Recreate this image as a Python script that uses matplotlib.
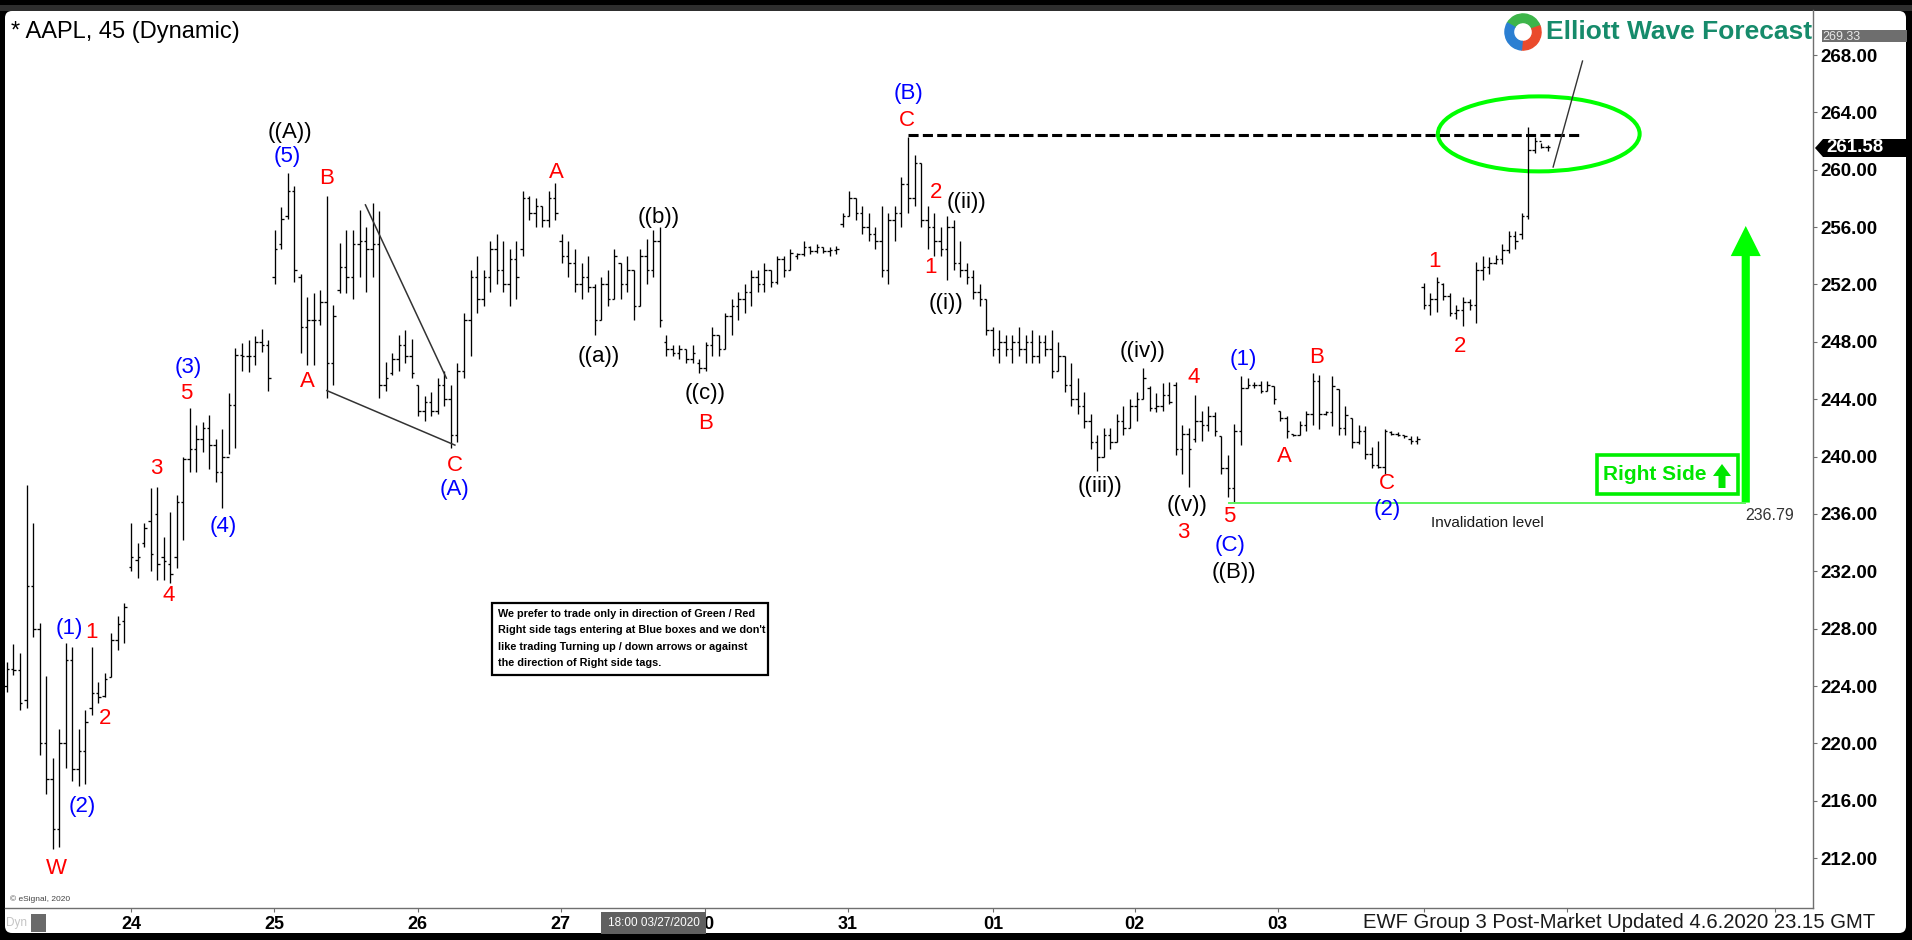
import numpy as np
import matplotlib
matplotlib.use('Agg')
import matplotlib.pyplot as plt
from matplotlib.collections import LineCollection
from matplotlib.patches import Ellipse, FancyArrow, Rectangle, FancyBboxPatch, Polygon, Wedge
from matplotlib.transforms import Affine2D

plt.rcParams['font.family'] = ['Liberation Sans', 'DejaVu Sans']

# AAPL 45 min bars (high / low / open / close)
bar_high = [
    225.7, 226.9, 226.3, 238.0, 235.4, 228.4, 224.7, 219.0, 221.0, 227.0,
    226.7, 221.0, 222.3, 226.7, 224.3, 224.9, 227.7, 228.9, 229.8, 235.4,
    234.0, 235.4, 237.8, 237.9, 234.4, 236.1, 237.3, 240.0, 243.4, 242.2,
    242.4, 242.9, 241.2, 241.9, 244.4, 247.6, 247.9, 248.1, 248.4, 248.9,
    248.1, 255.8, 257.4, 259.8, 258.9, 252.7, 251.1, 251.4, 251.6, 258.2,
    250.6, 254.9, 255.8, 255.8, 257.2, 256.0, 257.7, 257.1, 246.6, 247.2,
    248.5,
    248.8, 248.2, 245.0, 244.2, 244.5, 245.5, 246.0, 245.0, 246.5, 250.0,
    253.0, 254.0, 253.0, 255.0, 255.5, 255.0, 254.5, 255.0, 258.5, 258.2,
    258.0, 257.5, 258.5, 259.1, 255.5, 255.0, 254.5, 253.5, 254.0, 252.0,
    252.5, 253.0, 254.5, 253.5, 254.0, 253.0, 254.5, 255.2, 255.8, 256.0,
    248.5, 247.8, 247.8, 247.5, 247.8, 246.8, 248.0, 249.0, 248.5, 250.0,
    251.0, 251.5, 252.0, 253.0, 253.0, 253.5, 253.0, 254.0, 254.0, 254.5,
    254.2, 255.0, 254.7, 254.8, 254.6, 254.6, 254.7, 257.0, 258.5, 258.0,
    257.5, 257.0, 256.0, 257.5, 257.0, 257.5, 259.5, 262.3, 261.0, 260.5,
    257.5, 257.0, 256.0, 256.8, 256.5, 255.0, 253.5, 253.0, 252.0, 251.0,
    249.0, 248.8, 248.5, 248.5, 249.0, 248.5, 248.8, 248.5, 248.5, 248.8,
    248.0, 247.0, 246.5, 245.5, 244.5, 243.0, 241.5, 242.0, 242.0, 243.0,
    243.5, 244.0, 244.5, 246.2,
    244.9, 244.4, 245.1, 245.2, 245.2, 242.2, 242.0, 244.3, 243.2, 243.5,
    243.1, 241.4, 240.1, 242.3, 245.6, 245.5, 245.2, 245.3, 245.3, 244.9,
    243.2, 242.8, 241.6, 242.5, 243.2, 245.8, 245.7, 243.2, 245.6, 244.7,
    243.5, 242.7, 242.2, 242.1, 240.7, 241.1, 241.9, 241.8, 241.7, 241.5,
    241.4, 241.4,
    252.1, 251.4, 252.5, 252.1, 251.4, 250.6, 251.1, 251.0, 253.6, 254.0,
    253.9, 254.05, 254.8, 255.7, 255.7, 257.0, 263.0, 262.3, 261.9, 261.7,
]
bar_low = [
    223.6, 224.8, 222.3, 222.5, 227.4, 219.2, 216.5, 212.6, 212.8, 218.3,
    217.4, 217.0, 217.2, 222.0, 222.8, 223.2, 224.6, 226.5, 227.0, 232.0,
    231.5, 233.7, 232.0, 231.4, 231.4, 231.2, 232.2, 234.2, 238.9, 238.9,
    240.3, 239.1, 238.2, 236.4, 240.2, 240.6, 246.0, 245.9, 246.4, 247.3,
    244.6, 252.0, 254.5, 256.6, 252.2, 247.2, 246.4, 246.4, 249.2, 244.1,
    245.0, 251.4, 251.4, 251.0, 252.5, 251.5, 252.5, 244.1, 244.6, 245.7,
    246.0,
    246.5, 245.5, 242.8, 242.5, 242.8, 243.0, 243.5, 240.6, 241.0, 245.5,
    247.0, 250.0, 250.5, 251.5, 252.0, 251.5, 250.5, 251.0, 254.0, 256.5,
    256.0, 256.0, 256.0, 256.5, 253.5, 252.5, 251.5, 251.0, 251.5, 248.5,
    249.5, 250.5, 251.0, 251.0, 251.5, 249.5, 250.5, 252.0, 252.5, 249.0,
    247.0, 247.0, 246.8, 246.5, 246.5, 245.8, 246.0, 247.0, 247.0, 247.5,
    248.5, 249.5, 250.0, 250.5, 251.5, 251.5, 251.8, 252.0, 252.5, 253.0,
    253.8, 254.0, 254.1, 254.2, 254.2, 254.0, 254.1, 256.0, 256.8, 256.5,
    255.5, 255.0, 254.5, 252.5, 252.0, 255.0, 256.0, 257.0, 257.5, 256.0,
    254.5, 254.0, 254.0, 252.3, 253.0, 252.5, 252.0, 251.0, 250.5, 248.5,
    247.0, 246.5, 247.0, 246.5, 247.0, 246.5, 246.5, 246.5, 247.0, 245.5,
    246.0, 244.5, 243.5, 243.0, 242.0, 240.5, 239.0, 240.0, 240.5, 241.0,
    241.5, 242.0, 242.5, 244.0,
    243.2, 243.1, 243.2, 243.7, 240.1, 238.8, 237.9, 241.0, 241.1, 241.8,
    241.4, 238.8, 237.2, 236.79, 240.8, 244.8, 244.8, 244.4, 244.6, 243.7,
    242.5, 241.3, 241.4, 241.5, 241.8, 242.2, 241.9, 242.9, 242.1, 241.5,
    241.5, 240.6, 240.9, 239.8, 239.2, 239.2, 238.8, 241.5, 241.4, 241.3,
    240.9, 240.9,
    250.3, 249.9, 250.1, 250.9, 249.8, 249.6, 249.1, 250.2, 249.3, 252.3,
    252.7, 253.4, 253.4, 254.2, 254.5, 255.2, 256.6, 261.2, 261.5, 261.3,
]
bar_open = [
    224.0, 225.2, 225.1, 223.0, 231.0, 228.0, 220.0, 217.5, 214.0, 220.0,
    225.8, 218.2, 219.5, 222.5, 223.5, 223.3, 224.6, 227.2, 228.5, 232.3,
    232.8, 234.0, 235.5, 236.0, 233.0, 232.5, 233.0, 236.8, 239.8, 240.5,
    241.2, 242.0, 240.8, 238.9, 240.0, 243.6, 247.1, 247.0, 247.0, 248.0,
    247.8, 252.5, 254.8, 256.8, 258.5, 252.5, 249.0, 249.5, 249.5, 250.8,
    246.5, 251.6, 253.2, 252.5, 254.8, 255.0, 254.5, 254.8, 245.0, 245.8,
    246.8,
    247.8, 247.0, 245.0, 243.2, 243.8, 243.2, 245.0, 244.0, 241.5, 246.0,
    249.5, 252.5, 251.0, 252.5, 254.5, 253.0, 252.0, 253.8, 254.5, 258.0,
    257.0, 257.5, 256.5, 258.0, 255.0, 254.0, 253.5, 252.0, 252.5, 251.8,
    249.5, 252.0, 251.0, 253.5, 252.0, 253.0, 250.5, 254.0, 253.0, 255.0,
    248.0, 247.5, 247.2, 247.5, 246.8, 246.5, 246.2, 247.8, 248.5, 247.5,
    249.8, 250.5, 251.0, 251.5, 252.5, 252.0, 253.0, 252.2, 253.8, 253.0,
    254.0, 254.1, 254.6, 254.3, 254.6, 254.3, 254.4, 256.2, 256.8, 258.0,
    257.0, 256.0, 255.5, 255.0, 253.0, 256.5, 257.0, 259.0, 258.0, 260.5,
    256.5, 256.0, 255.0, 254.5, 256.0, 253.5, 253.0, 252.5, 251.5, 251.0,
    248.8, 247.5, 248.0, 247.5, 248.0, 247.5, 248.0, 247.0, 248.0, 247.5,
    246.0, 247.0, 245.0, 244.0, 243.5, 242.5, 241.0, 240.0, 241.5, 241.0,
    242.5, 242.0, 243.5, 244.0,
    244.8, 243.4, 243.5, 244.3, 245.0, 240.5, 241.6, 241.2, 242.5, 242.2,
    242.8, 241.4, 239.2, 237.8, 241.8, 244.8, 245.0, 245.0, 244.6, 244.9,
    243.2, 242.7, 241.6, 241.5, 242.2, 243.0, 245.3, 243.0, 243.1, 244.7,
    242.0, 242.7, 241.0, 241.8, 240.2, 239.4, 239.3, 241.7, 241.6, 241.5,
    241.2, 241.1,
    251.8, 250.6, 251.0, 252.0, 251.2, 250.0, 250.2, 250.8, 250.6, 253.0,
    253.2, 253.5, 253.8, 254.4, 255.4, 255.5, 256.8, 261.4, 262.0, 261.6,
]
bar_close = [
    225.2, 225.1, 222.8, 231.0, 228.0, 220.0, 217.5, 214.0, 220.0, 225.8,
    218.2, 219.5, 221.5, 223.5, 223.2, 224.5, 227.2, 228.3, 229.5, 233.0,
    233.0, 235.0, 233.2, 232.5, 232.7, 231.8, 236.8, 239.8, 240.5, 241.2,
    242.0, 240.8, 238.9, 240.0, 243.6, 247.1, 247.0, 247.0, 248.0, 247.8,
    245.5, 254.5, 256.6, 258.5, 253.0, 249.0, 249.5, 249.5, 250.8, 246.5,
    249.8, 253.2, 252.5, 254.8, 255.0, 254.5, 254.8, 245.0, 245.5, 246.8,
    247.8,
    247.0, 245.8, 243.2, 243.8, 243.2, 245.0, 244.0, 241.5, 246.0, 249.5,
    252.5, 251.0, 252.5, 254.5, 253.0, 252.0, 253.8, 252.5, 258.0, 257.0,
    257.5, 256.5, 258.0, 257.0, 254.0, 253.5, 252.0, 252.5, 251.8, 249.5,
    252.0, 251.0, 254.0, 252.0, 253.0, 250.5, 254.0, 253.0, 255.0, 249.5,
    247.5, 247.2, 247.5, 246.8, 247.2, 246.2, 247.8, 248.5, 247.5, 249.8,
    250.5, 251.0, 251.5, 252.5, 252.0, 253.0, 252.2, 253.8, 253.0, 254.2,
    254.1, 254.6, 254.3, 254.6, 254.3, 254.4, 254.5, 256.8, 258.0, 257.0,
    256.0, 255.5, 255.0, 253.0, 256.5, 257.0, 259.0, 258.0, 260.5, 256.5,
    256.0, 255.0, 254.5, 256.0, 253.5, 253.0, 252.5, 251.5, 251.0, 248.8,
    247.5, 248.0, 247.5, 248.0, 247.5, 248.0, 247.0, 248.0, 247.5, 246.0,
    247.0, 245.0, 244.0, 243.5, 242.5, 241.0, 240.0, 241.5, 241.0, 242.5,
    242.0, 243.5, 244.0, 245.5,
    243.4, 243.5, 244.3, 243.8, 240.5, 241.6, 240.5, 242.5, 242.2, 242.8,
    241.8, 239.2, 237.8, 241.8, 244.8, 245.0, 245.0, 244.6, 245.0, 244.0,
    242.7, 241.8, 241.5, 242.2, 243.0, 245.3, 243.0, 243.1, 244.9, 242.0,
    242.9, 241.0, 241.8, 240.2, 239.4, 239.3, 241.8, 241.6, 241.5, 241.4,
    241.1, 241.2,
    250.6, 251.0, 252.2, 251.2, 250.0, 250.2, 250.8, 250.6, 253.0, 253.2,
    253.5, 253.8, 254.4, 255.4, 255.0, 256.8, 261.4, 262.0, 261.6, 261.58,
]

# day ticks (bar index where each session label sits)
day_ticks = [19.0, 40.9, 62.9, 84.8, 106.9, 128.8, 151.0, 172.7, 194.6, 217.0, 238.9, 270.8]
day_labels = ['24', '25', '26', '27', '30', '31', '01', '02', '03', '', '', '']
price_ticks = np.arange(212, 269, 4)

last_price = 261.58
top_price = 269.33
invalidation = 236.79
resistance = 262.4

# elliott wave labels
wave_text = ['W', '(1)', '1', '(2)', '2', '3', '4', '(3)', '5', '(4)',
             '((A))', '(5)', 'A', 'B', 'C', '(A)', 'A', '((a))', '((b))', '((c))',
             'B', '(B)', 'C', '1', '2', '((i))', '((ii))', '((iii))', '((iv))', '3',
             '((v))', '4', '5', '(C)', '((B))', '(1)', 'A', 'B', 'C', '(2)',
             '1', '2']
wave_color = ['r', 'b', 'r', 'b', 'r', 'r', 'r', 'b', 'r', 'b',
              'k', 'b', 'r', 'r', 'r', 'b', 'r', 'k', 'k', 'k',
              'r', 'b', 'r', 'r', 'r', 'k', 'k', 'k', 'k', 'r',
              'k', 'r', 'r', 'b', 'k', 'b', 'r', 'r', 'r', 'b',
              'r', 'r']
wave_x = [7.5, 9.6, 12.9, 11.6, 15.0, 22.8, 24.7, 27.7, 27.5, 33.1,
          43.4, 43.0, 46.0, 49.0, 68.6, 68.6, 84.1, 90.6, 99.8, 107.0,
          107.0, 138.1, 137.9, 141.4, 142.3, 143.8, 147.0, 167.4, 173.9, 180.1,
          180.8, 181.7, 187.2, 187.3, 187.9, 189.4, 195.6, 200.6, 211.3, 211.4,
          218.7, 222.6]
wave_y = [211.3, 228.0, 227.7, 215.6, 221.7, 239.2, 230.3, 246.2, 244.4, 235.1,
          262.6, 260.9, 245.2, 259.4, 239.35, 237.7, 259.8, 247.0, 256.7, 244.4,
          242.3, 265.3, 263.4, 253.2, 258.4, 250.7, 257.7, 237.9, 247.3, 234.7,
          236.6, 245.5, 235.8, 233.8, 231.9, 246.8, 240.0, 246.9, 238.1, 236.3,
          253.6, 247.7]
colors = {'r': '#ff0000', 'b': '#0000ff', 'k': '#000000'}

note = ["We prefer to trade only in direction of Green / Red",
        "Right side tags entering at Blue boxes and we don't",
        "like trading Turning up / down arrows or against",
        "the direction of Right side tags."]

W, H = 1912, 940
fig = plt.figure(figsize=(W / 100, H / 100), dpi=100, facecolor='black')
pix = Affine2D().scale(1 / W, -1 / H).translate(0, 1) + fig.transFigure

# white panel and top frame
fig.patches.append(Rectangle((0, 5), W, 6, transform=pix, facecolor='#2e2e2e', edgecolor='none', zorder=-11))
fig.patches.append(FancyBboxPatch((5, 11), 1901, 922, boxstyle='round,pad=0,rounding_size=7',
                                  transform=pix, facecolor='white', edgecolor='none', zorder=-10))

ax = fig.add_axes([5 / W, 1 - 908 / H, (1813 - 5) / W, (908 - 10) / H])
ax.set_facecolor('none')
ax.set_xlim(-0.3, 276.6)
ax.set_ylim(208.52, 271.14)

# OHLC bars
segs = []
for i in range(len(bar_high)):
    segs.append([(i, bar_low[i]), (i, bar_high[i])])
    segs.append([(i - 0.38, bar_open[i]), (i, bar_open[i])])
    segs.append([(i, bar_close[i]), (i + 0.38, bar_close[i])])
ax.add_collection(LineCollection(segs, colors='black', linewidths=0.95))

# axes styling
for s in ['top', 'left']:
    ax.spines[s].set_visible(False)
for s in ['right', 'bottom']:
    ax.spines[s].set_color('#6f6f6f')
    ax.spines[s].set_linewidth(1.0)
ax.yaxis.tick_right()
ax.set_yticks(price_ticks)
ax.set_yticklabels([f'{v:.2f}' for v in price_ticks], fontsize=13.5, fontweight='bold')
ax.tick_params(axis='y', length=3, color='#6f6f6f', pad=2)
ax.set_xticks(day_ticks)
ax.set_xticklabels(day_labels, fontsize=13, fontweight='bold')
ax.tick_params(axis='x', length=3, color='#6f6f6f', pad=3)

# trend lines, resistance, invalidation
ax.plot([54.9, 67.3], [257.55, 245.47], color='#333333', lw=1.1)
ax.plot([49.0, 68.6], [244.6, 240.8], color='#333333', lw=1.1)
ax.plot([138, 240.7], [resistance, resistance], color='black', lw=2.2, dashes=(3.3, 1.4))
ax.add_patch(Ellipse((234.6, 262.5), 30.9, 5.23, fill=False, edgecolor='#00ff00', lw=2.9))
ax.plot([236.8, 241.3], [260.19, 267.58], color='#333333', lw=1.0)
ax.plot([187.2, 266.2], [invalidation, invalidation], color='#5cf55c', lw=1.4)
ax.add_patch(FancyArrow(266.3, invalidation, 0, 256.08 - invalidation, width=1.25,
                        head_width=4.6, head_length=2.1, length_includes_head=True,
                        color='#00ff00', lw=0))

for t, c, x, y in zip(wave_text, wave_color, wave_x, wave_y):
    ax.text(x, y, t, color=colors[c], fontsize=16, ha='center', va='center')

# title and logo
fig.text(11, 32, '* AAPL, 45 (Dynamic)', transform=pix, fontsize=17, va='center', ha='left')
fig.patches.append(Rectangle((1822, 30), 85, 12, transform=pix, facecolor='#6e6e6e', edgecolor='none', zorder=5))
fig.text(1822, 36.5, f'{top_price:.2f}', transform=pix, fontsize=9, color='#e8e8e8', va='center', zorder=6)
fig.text(1546, 32, 'Elliott Wave Forecast', transform=pix, fontsize=19, fontweight='bold',
         color='#168b6b', va='center', zorder=8)
iax = fig.add_axes([1504 / W, 1 - 51 / H, 38 / W, 38 / H])
iax.set_xlim(-1, 1)
iax.set_ylim(-1, 1)
iax.axis('off')
iax.add_patch(Wedge((0, 0), 0.95, 20, 150, width=0.45, color='#3db54a'))
iax.add_patch(Wedge((0, 0), 0.95, 265, 20, width=0.45, color='#ea4a2c'))
iax.add_patch(Wedge((0, 0), 0.95, 150, 265, width=0.45, color='#2b7fd2'))

# last price tag
fig.patches.append(Polygon([(1815, 148), (1823, 139), (1907, 139), (1907, 157), (1823, 157)],
                           closed=True, transform=pix, facecolor='black', edgecolor='none', zorder=5))
fig.text(1826, 148, f'{last_price:.2f}', transform=pix, fontsize=13.5, fontweight='bold',
         color='white', va='center', zorder=6)

# right side tag
fig.patches.append(Rectangle((1597, 455), 141, 39, transform=pix, facecolor='white',
                             edgecolor='#00ee00', lw=2.6, zorder=5))
fig.text(1603, 475, 'Right Side', transform=pix, fontsize=15, fontweight='bold',
         color='#00e600', va='center', zorder=6)
fig.patches.append(Polygon([(1722, 464), (1713, 476), (1718.5, 476), (1718.5, 488),
                            (1725.5, 488), (1725.5, 476), (1731, 476)],
                           closed=True, transform=pix, facecolor='#00e600', edgecolor='none', zorder=6))

fig.text(1431, 523, 'Invalidation level', transform=pix, fontsize=11,
         color='#1a1a1a', va='center')
fig.text(1770, 515, f'{invalidation:.2f}', transform=pix, fontsize=11.5, color='#333333',
         ha='center', va='center')

# note box
fig.patches.append(Rectangle((492, 603), 276, 72, transform=pix, facecolor='white',
                             edgecolor='black', lw=1.6, zorder=4))
for k, line in enumerate(note):
    fig.text(498, 614 + 16.3 * k, line, transform=pix, fontsize=7.8, fontweight='bold',
             va='center', zorder=5)

# bottom strip
fig.text(10, 899, '\u00a9 eSignal, 2020', transform=pix, fontsize=6, color='#444444', va='center')
fig.text(6, 923, 'Dyn', transform=pix, fontsize=8.5, color='#c4c4c4', va='center')
fig.patches.append(Rectangle((31, 914), 15, 18, transform=pix, facecolor='#6a6a6a', edgecolor='none', zorder=5))
fig.patches.append(Rectangle((601, 912), 105, 22, transform=pix, facecolor='#606060', edgecolor='none', zorder=5))
fig.text(653.5, 923, '18:00 03/27/2020', transform=pix, fontsize=8.5,
         color='white', ha='center', va='center', zorder=6)
fig.text(1363, 923, 'EWF Group 3 Post-Market Updated 4.6.2020 23.15 GMT', transform=pix,
         fontsize=14.6, color='#1a1a1a', va='center', zorder=6)

fig.savefig('out.png', dpi=100, facecolor='black')
